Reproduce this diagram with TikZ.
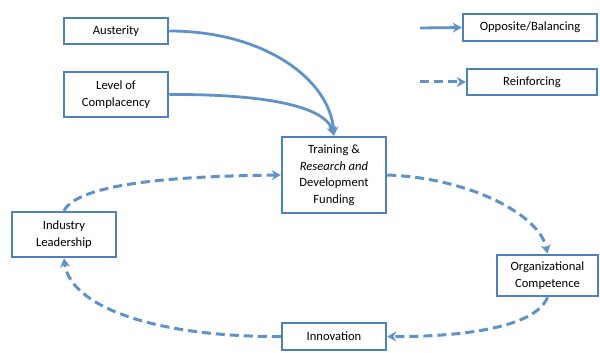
\documentclass[tikz,border=0pt]{standalone}
\usepackage{fontspec}
\setmainfont{Carlito}
\usetikzlibrary{arrows.meta}
\definecolor{boxblue}{RGB}{79,129,189}
\definecolor{lineblue}{RGB}{96,146,202}
\begin{document}
\begin{tikzpicture}[x=1pt,y=-1pt,
  box/.style={draw=boxblue,line width=2.5pt,fill=white,inner sep=0pt,align=center,
    font=\fontsize{12.6}{16.5}\selectfont},
  solidarr/.style={draw=lineblue,line width=2.8pt,-{Stealth[length=9pt,width=10pt]}},
  dasharr/.style={draw=lineblue,line width=3pt,dash pattern=on 9pt off 5pt,-{Stealth[length=9pt,width=10pt]}}]
\useasboundingbox (0,0) rectangle (600,353);
\node[box,minimum width=104pt,minimum height=26pt] (aus) at (116,31) {Austerity};
\node[box,minimum width=104pt,minimum height=45pt] (comp) at (116,94.5) {Level of\\Complacency};
\node[box,minimum width=104pt,minimum height=76pt] (tr) at (334,175) {Training \&\\\textit{Research and}\\Development\\Funding};
\node[box,minimum width=104pt,minimum height=45pt] (ind) at (64,234.5) {Industry\\Leadership};
\node[box,minimum width=101pt,minimum height=41pt] (org) at (547.5,275.5) {Organizational\\Competence};
\node[box,minimum width=104pt,minimum height=27pt] (inn) at (334,336.5) {Innovation};
\node[box,minimum width=134pt,minimum height=27pt] (opp) at (530,27.5) {Opposite/Balancing};
\node[box,minimum width=130pt,minimum height=26pt] (rein) at (532,82) {Reinforcing};
\coordinate (l1) at (420,28);
\coordinate (l2) at (420,82);
\draw[solidarr] (l1) -- (opp.west);
\draw[dasharr] (l2) -- (rein.west);
\draw[solidarr] (aus.east) .. controls (265,31) and (330,80) .. (tr.north);
\draw[solidarr] (comp.east) .. controls (260,94) and (325,105) .. (tr.north);
\draw[dasharr] (tr.east) .. controls (470,178) and (540,215) .. (org.north);
\draw[dasharr] (org.south) .. controls (535,330) and (450,337) .. (inn.east);
\draw[dasharr] (inn.west) .. controls (150,337) and (70,305) .. (ind.south);
\draw[dasharr] (ind.north) .. controls (80,180) and (200,176) .. (tr.west);
\end{tikzpicture}
\end{document}
